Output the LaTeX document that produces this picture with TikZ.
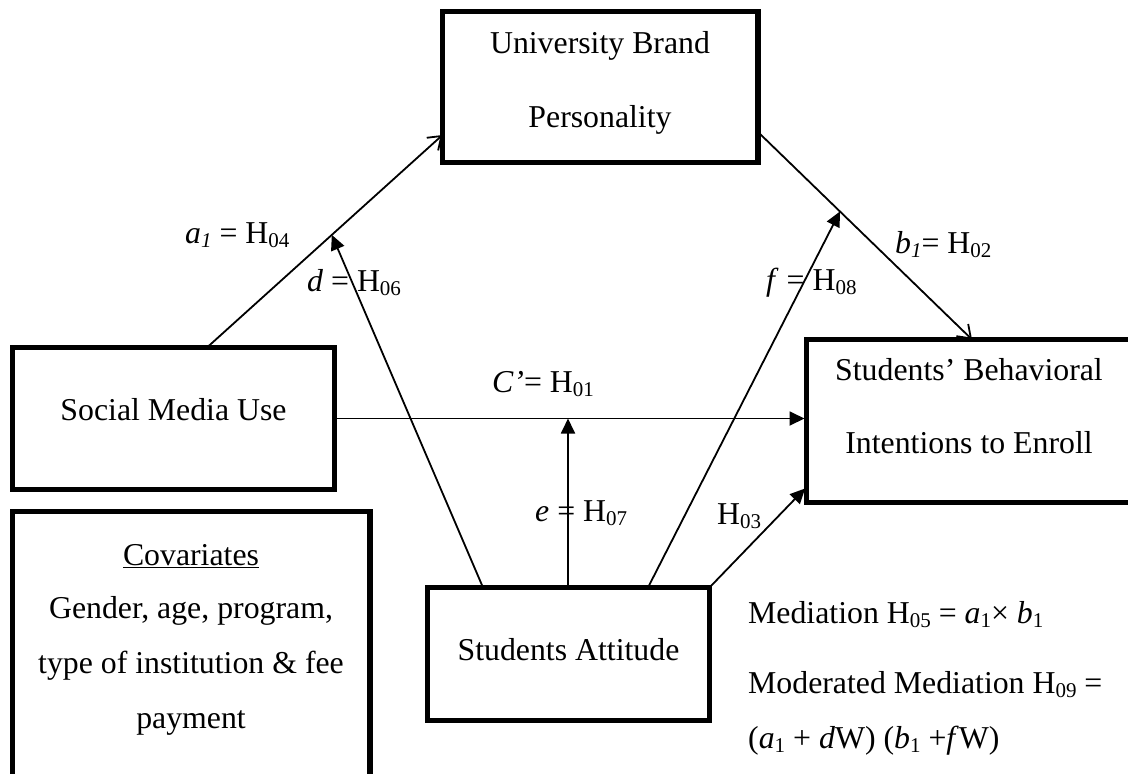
\documentclass[tikz,border=0pt]{standalone}
\usepackage{fontspec}
\setmainfont{Liberation Serif}
\usetikzlibrary{arrows.meta,calc}
\newcommand\hsub[1]{\raisebox{-4pt}{\fontsize{21}{21}\selectfont #1}}
\begin{document}
\begin{tikzpicture}[x=1pt,y=-1pt,
  every node/.style={font=\fontsize{31.8}{38}\selectfont},
  box/.style={draw,line width=5.2pt,inner sep=0pt,outer sep=0pt,anchor=north west},
  txt/.style={anchor=base,inner sep=0pt},
  lbl/.style={anchor=base west,inner sep=0pt},
  con/.style={line width=1.8pt},
  open/.style={con,-{Straight Barb[length=12pt,width=17pt,line width=1.8pt]}},
  solid/.style={con,-{Triangle[length=15pt,width=14pt]}}]
\clip (0,0) rectangle (1128,774);
\fill[white] (0,0) rectangle (1128,774);
% boxes
\node[box,minimum width=315.5pt,minimum height=150.8pt] (ubp) at (442.5,11.7) {};
\node[box,minimum width=322pt,minimum height=142pt] (smu) at (12.5,347.5) {};
\node[box,minimum width=357.5pt,minimum height=300pt] (cov) at (12.5,511.5) {};
\node[box,minimum width=282pt,minimum height=133pt] (sa) at (427.5,587.5) {};
\node[box,minimum width=340pt,minimum height=163pt] (sbi) at (806.5,339.5) {};
% box texts
\node[txt] (ubp1) at (600,53) {University Brand};
\node[txt] (ubp2) at (600,127) {Personality};
\node[txt] (smut) at (173.5,420) {Social Media Use};
\node[txt] (sbi1) at (969,380) {Students’ Behavioral};
\node[txt] (sbi2) at (969,453) {Intentions to Enroll};
\node[txt] (sat) at (568.5,660) {Students Attitude};
\node[txt] (cov1) at (191,565) {\underline{Covariates}};
\node[txt] (cov2) at (191,618) {Gender, age, program,};
\node[txt] (cov3) at (191,673) {type of institution \& fee};
\node[txt] (cov4) at (191,728) {payment};
% connector end points
\coordinate (a1s) at (smu.north -| 207,0);
\coordinate (a1e) at (ubp.west |- 0,135);
\coordinate (b1s) at (ubp.east |- 0,132);
\coordinate (b1e) at (sbi.north -| 972,0);
\coordinate (dsrc) at (sa.north -| 483,0);
\coordinate (esrc) at (sa.north -| 568,0);
\coordinate (fsrc) at (sa.north -| 648,0);
\coordinate (dpt) at ($(a1s)!0.53!(a1e)$);
\coordinate (fpt) at ($(b1s)!0.383!(b1e)$);
\coordinate (h3e) at (sbi.west |- 0,487);
% connectors
\draw[open] (a1s) -- (a1e);
\draw[open] (b1s) -- (b1e);
\draw[solid,shorten >=2pt] (smu.east) -- (sbi.west |- smu.east);
\draw[solid] (dsrc) -- (dpt);
\draw[solid] (esrc) -- (esrc |- smu.east);
\draw[solid] (fsrc) -- (fpt);
\draw[solid,shorten >=2pt] (sa.north east) -- (h3e);
% labels
\node[lbl] (la1) at (185,243) {\textit{a}\hsub{\itshape 1} = H\hsub{04}};
\node[lbl] (ld) at (307,291) {\textit{d} = H\hsub{06}};
\node[lbl] (lf) at (766,290) {\textit{f} = H\hsub{08}};
\node[lbl] (lb1) at (895,253) {\textit{b}\hsub{\itshape 1}= H\hsub{02}};
\node[lbl] (lc) at (492,392) {\textit{C’}= H\hsub{01}};
\node[lbl] (le) at (535,521) {\textit{e} = H\hsub{07}};
\node[lbl] (lh3) at (717,524) {H\hsub{03}};
\node[lbl] (med1) at (748,623) {Mediation H\hsub{05} = \textit{a}\hsub{1}× \textit{b}\hsub{1}};
\node[lbl] (med2) at (748,693) {Moderated Mediation H\hsub{09} =};
\node[lbl] (med3) at (748,748) {(\textit{a}\hsub{1} + \textit{d}W) (\textit{b}\hsub{1} +\textit{f}W)};
\end{tikzpicture}
\end{document}
